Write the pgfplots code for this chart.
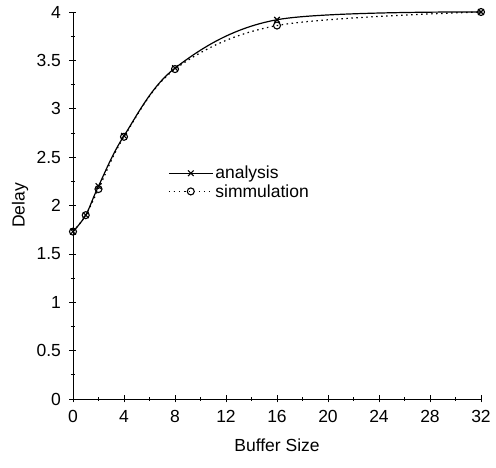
\documentclass[border=0pt]{standalone}
\usepackage{pgfplots}
\pgfplotsset{compat=1.18}
\usetikzlibrary{calc}
\usepackage{fontspec}
\setmainfont{Liberation Sans}
\begin{document}
\begin{tikzpicture}[x=1pt,y=1pt]
\begin{axis}[
  scale only axis,
  width=408pt, height=387pt,
  xmin=0, xmax=32, ymin=0, ymax=4,
  axis x line*=bottom, axis y line*=left,
  axis line style={-, line width=0.8pt},
  xtick={0,4,...,32}, ytick={0,0.5,...,4},
  minor x tick num=1, minor y tick num=1,
  tick align=center,
  major tick length=7pt, minor tick length=4pt,
  tick style={black, line width=0.7pt},
  /pgf/number format/assume math mode=true,
  yticklabel style={/pgf/number format/fixed, xshift=-5pt},
  xticklabel style={yshift=-4pt},
  ticklabel style={font=\fontsize{17.5}{19}\selectfont},
  label style={font=\fontsize{17.5}{19}\selectfont},
  xlabel={Buffer Size}, ylabel={Delay},
  xlabel style={at={($(rel axis cs:0.5,0)+(0,-46pt)$)}, anchor=center},
  ylabel style={at={($(rel axis cs:0,0.5)+(-53pt,0)$)}, anchor=center},
  legend style={at={(axis cs:7.45,2.45)}, anchor=north west, draw=none, fill=none, font=\fontsize{17.5}{19}\selectfont, row sep=0pt, inner xsep=0pt},
  legend cell align=left,
  legend image code/.code={\draw[mark repeat=2,mark phase=2,#1] plot coordinates {(0pt,0pt) (22pt,0pt) (44pt,0pt)};},
]
\coordinate (sw) at (rel axis cs:0,0);
\coordinate (ne) at (rel axis cs:1,1);
\addplot[black, line width=1.2pt, smooth, tension=0.55, mark=x, mark size=4pt, mark options={solid, line width=1.1pt}]
  coordinates {(0,1.73) (1,1.90) (2,2.20) (4,2.72) (8,3.42) (16,3.92) (32,4.00)};
\addlegendentry{analysis}
\addplot[black, line width=1.2pt, dash pattern=on 1.5pt off 3.5pt, smooth, tension=0.55, mark=o, mark size=3.5pt, mark options={solid, line width=1.1pt}]
  coordinates {(0,1.73) (1,1.90) (2,2.17) (4,2.71) (8,3.41) (16,3.86) (32,4.00)};
\addlegendentry{simmulation}
\end{axis}
\path (sw) ++(-73pt,-69pt) coordinate (bbsw);
\path (ne) ++(15pt,12pt) coordinate (bbne);
\useasboundingbox (bbsw) rectangle (bbne);
\end{tikzpicture}
\end{document}
